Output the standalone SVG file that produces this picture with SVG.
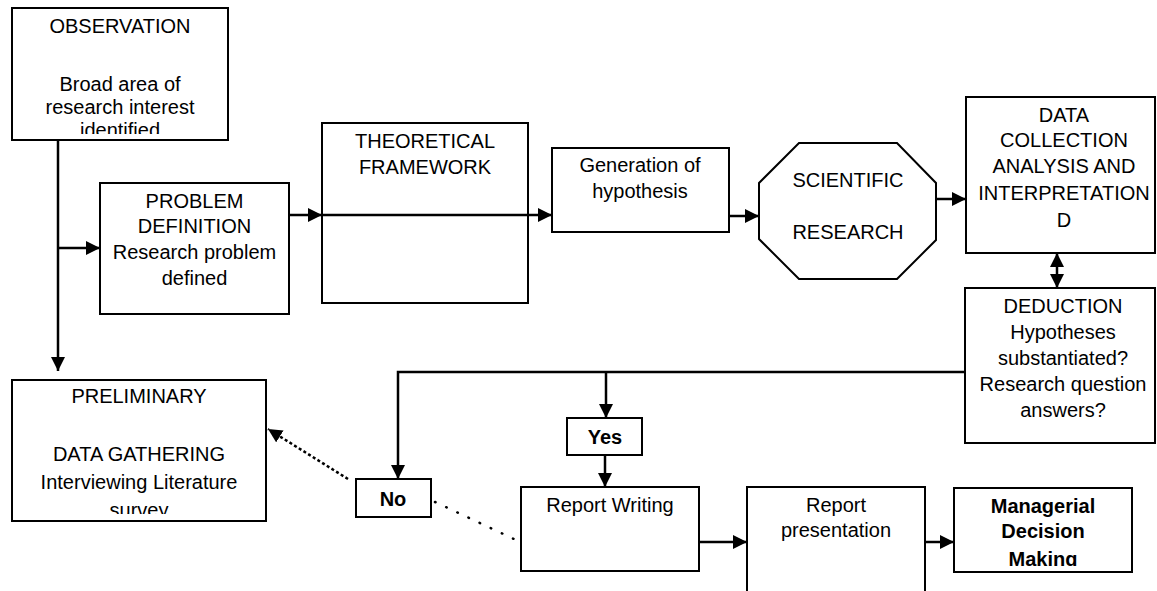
<svg xmlns="http://www.w3.org/2000/svg" width="1157" height="591" viewBox="0 0 1157 591">
<style>
.box{fill:#fff;stroke:#000;stroke-width:2}
.t{font-family:"Liberation Sans",Arial,sans-serif;font-size:20px;text-anchor:middle;fill:#000}
.b{font-weight:bold}
.ln{stroke:#000;stroke-width:2.5;fill:none}
</style>
<defs>
<marker id="ah" viewBox="0 0 10 10" refX="10" refY="5" markerWidth="14" markerHeight="14" markerUnits="userSpaceOnUse" orient="auto-start-reverse"><path d="M0,0 L10,5 L0,10 z" fill="#000"/></marker>
<clipPath id="cObs"><rect x="12" y="8" width="216" height="126"/></clipPath>
<clipPath id="cPre"><rect x="12" y="380" width="254" height="134"/></clipPath>
<clipPath id="cMdm"><rect x="954" y="488" width="178" height="78"/></clipPath>
</defs>
<rect width="1157" height="591" fill="#fff"/>
<g id="observation">
<rect class="box" x="12" y="8" width="216" height="132"/>
<g clip-path="url(#cObs)">
<text class="t" x="120" y="33">OBSERVATION</text>
<text class="t" x="120" y="91">Broad area of</text>
<text class="t" x="120" y="114">research interest</text>
<text class="t" x="120" y="137">identified</text>
</g>
</g>
<g id="problem-definition">
<rect class="box" x="100" y="183" width="189" height="131"/>
<text class="t" x="194.5" y="208">PROBLEM</text>
<text class="t" x="194.5" y="233">DEFINITION</text>
<text class="t" x="194.5" y="259">Research problem</text>
<text class="t" x="194.5" y="285">defined</text>
</g>
<g id="theoretical-framework">
<rect class="box" x="322" y="123" width="206" height="180"/>
<text class="t" x="425" y="148">THEORETICAL</text>
<text class="t" x="425" y="174">FRAMEWORK</text>
</g>
<g id="generation-hypothesis">
<rect class="box" x="552" y="148" width="177" height="84"/>
<text class="t" x="640" y="172">Generation of</text>
<text class="t" x="640" y="198">hypothesis</text>
</g>
<g id="scientific-research">
<polygon class="box" points="799,143 897,143 936,183 936,240 897,279 799,279 759,239 759,183"/>
<text class="t" x="848" y="187">SCIENTIFIC</text>
<text class="t" x="848" y="239">RESEARCH</text>
</g>
<g id="data-collection">
<rect class="box" x="966" y="97" width="189" height="156"/>
<text class="t" x="1064" y="122">DATA</text>
<text class="t" x="1064" y="147">COLLECTION</text>
<text class="t" x="1064" y="173">ANALYSIS AND</text>
<text class="t" x="1064" y="200">INTERPRETATION</text>
<text class="t" x="1064" y="227">D</text>
</g>
<g id="deduction">
<rect class="box" x="965" y="288" width="190" height="155"/>
<text class="t" x="1063" y="313">DEDUCTION</text>
<text class="t" x="1063" y="339">Hypotheses</text>
<text class="t" x="1063" y="365">substantiated?</text>
<text class="t" x="1063" y="391">Research question</text>
<text class="t" x="1063" y="417">answers?</text>
</g>
<g id="preliminary">
<rect class="box" x="12" y="380" width="254" height="141"/>
<g clip-path="url(#cPre)">
<text class="t" x="139" y="403">PRELIMINARY</text>
<text class="t" x="139" y="461">DATA GATHERING</text>
<text class="t" x="139" y="489">Interviewing Literature</text>
<text class="t" x="139" y="517">survey</text>
</g>
</g>
<g id="no">
<rect class="box" x="356" y="479" width="75" height="38"/>
<text class="t b" x="393" y="506">No</text>
</g>
<g id="yes">
<rect class="box" x="567" y="418" width="75" height="37"/>
<text class="t b" x="605" y="444">Yes</text>
</g>
<g id="report-writing">
<rect class="box" x="521" y="487" width="178" height="84"/>
<text class="t" x="610" y="512">Report Writing</text>
</g>
<g id="report-presentation">
<path class="box" d="M747,595 V487 H925 V595"/>
<text class="t" x="836" y="512">Report</text>
<text class="t" x="836" y="537">presentation</text>
</g>
<g id="managerial-decision">
<rect class="box" x="954" y="488" width="178" height="84"/>
<g clip-path="url(#cMdm)">
<text class="t b" x="1043" y="513">Managerial</text>
<text class="t b" x="1043" y="538">Decision</text>
<text class="t b" x="1043" y="566">Making</text>
</g>
</g>
<g id="connectors">
<path class="ln" d="M58,140 V371" marker-end="url(#ah)"/>
<path class="ln" d="M58,248 H100" marker-end="url(#ah)"/>
<path class="ln" d="M289,215 H322" marker-end="url(#ah)"/>
<path class="ln" d="M322,215 H552" marker-end="url(#ah)"/>
<path class="ln" d="M729,216 H759" marker-end="url(#ah)"/>
<path class="ln" d="M936,199 H966" marker-end="url(#ah)"/>
<path class="ln" d="M1057,253 V288" marker-start="url(#ah)" marker-end="url(#ah)"/>
<path class="ln" d="M965,372 H398 V479" marker-end="url(#ah)"/>
<path class="ln" d="M606,372 V418" marker-end="url(#ah)"/>
<path class="ln" d="M605,455 V487" marker-end="url(#ah)"/>
<path class="ln" d="M699,542 H747" marker-end="url(#ah)"/>
<path class="ln" d="M925,542 H954" marker-end="url(#ah)"/>
<path class="ln" d="M348,479 L268,429" stroke-width="3.5" stroke-dasharray="3 2.5" marker-end="url(#ah)"/>
<path class="ln" d="M435,502 L514,539" stroke-width="6" stroke-dasharray="0.6 11.7" stroke-linecap="round"/>
</g>
</svg>
